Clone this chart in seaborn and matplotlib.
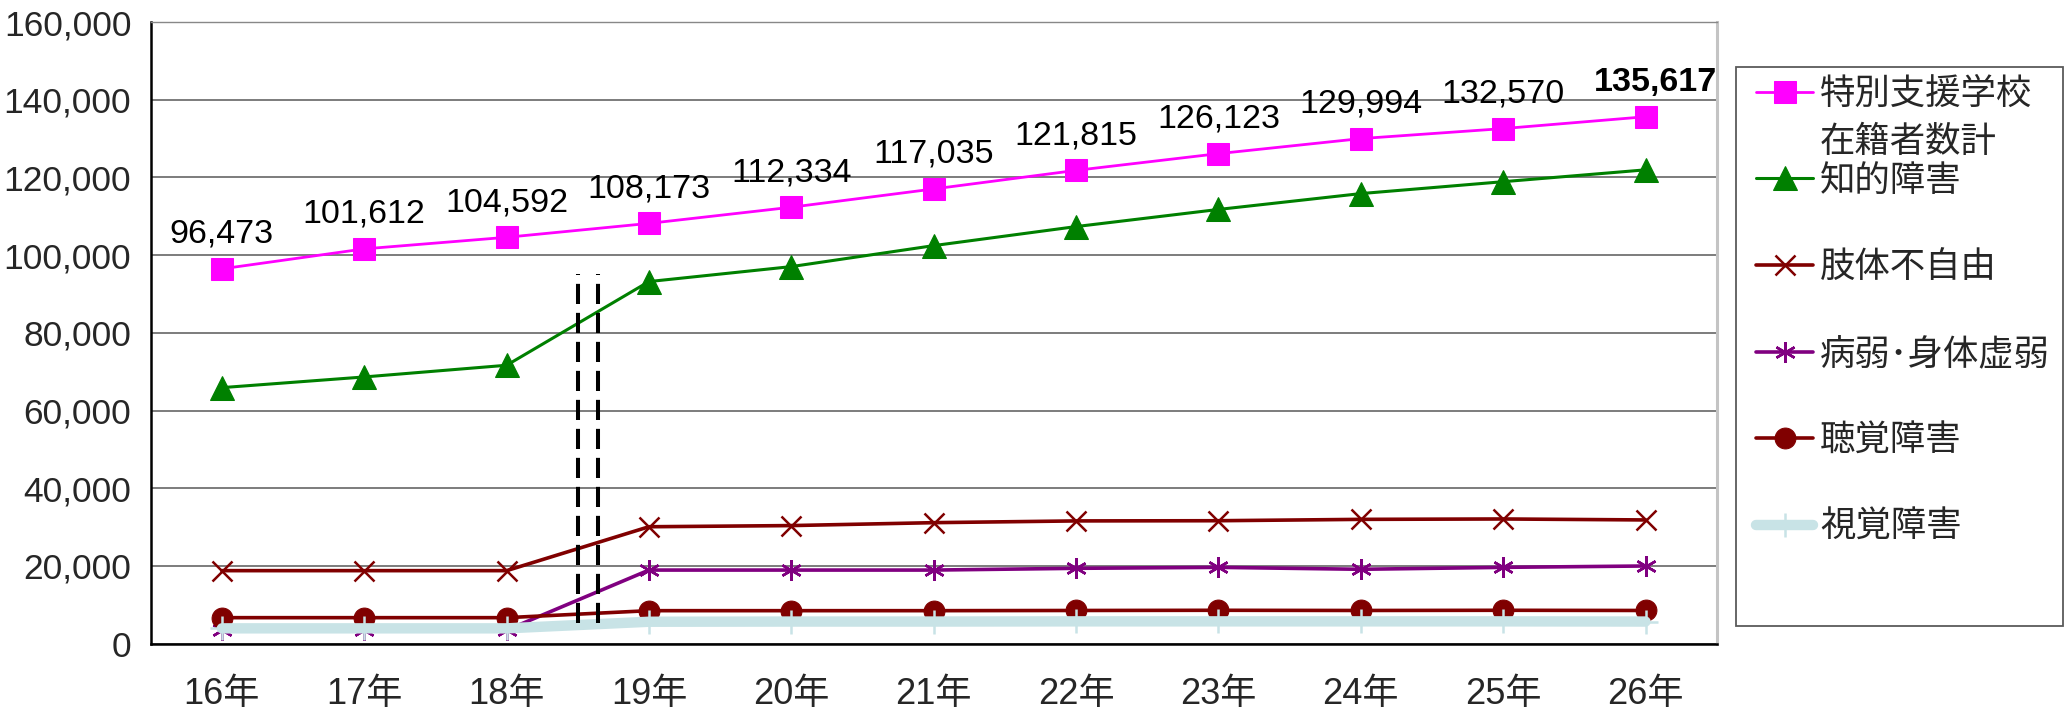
import matplotlib
matplotlib.use("Agg")
import matplotlib.pyplot as plt
from matplotlib import font_manager
from matplotlib.patches import Rectangle
from matplotlib.text import Annotation
from matplotlib.ticker import FixedLocator, FuncFormatter
import seaborn as sns
import pandas as pd

# ---- data -------------------------------------------------------------
years = ["16年", "17年", "18年", "19年", "20年", "21年", "22年", "23年", "24年", "25年", "26年"]
total = [96473, 101612, 104592, 108173, 112334, 117035, 121815, 126123, 129994, 132570, 135617]
intellectual = [65900, 68650, 71660, 93200, 97050, 102450, 107350, 111760, 115840, 118900, 121950]
physical = [18800, 18800, 18800, 30100, 30400, 31150, 31600, 31650, 32000, 32100, 31850]
health = [3500, 3500, 3500, 18950, 18950, 18950, 19400, 19650, 19150, 19650, 20000]
hearing = [6700, 6700, 6700, 8500, 8500, 8500, 8550, 8600, 8550, 8600, 8550]
visual = [3950, 3950, 3950, 5650, 5700, 5700, 5750, 5750, 5750, 5750, 5700]

series_names = ["特別支援学校", "知的障害", "肢体不自由", "病弱･身体虚弱", "聴覚障害", "視覚障害"]
total_label_line2 = "在籍者数計"

# vertical break marks between 18年 and 19年
break_x = [2.5, 2.64]
break_y = [5250, 95200]

y_ticks = [0, 20000, 40000, 60000, 80000, 100000, 120000, 140000, 160000]

# ---- fonts ------------------------------------------------------------
sns.set_style("white")
available = {f.name for f in font_manager.fontManager.ttflist}
narrow = "Liberation Sans Narrow" in available
num_family = ["Liberation Sans Narrow", "Liberation Sans"] if narrow else ["Liberation Sans"]
label_size = 27 if narrow else 24.5
plt.rcParams["font.family"] = ["Noto Sans CJK JP", "DejaVu Sans"]

# ---- figure -----------------------------------------------------------
W, H = 2069, 717
fig = plt.figure(figsize=(W / 100, H / 100), dpi=100)
ax = fig.add_axes([150.7 / W, 1 - 643.7 / H, (1716.7 - 150.7) / W, (643.7 - 22) / H])

x = list(range(len(years)))
df = pd.DataFrame({"x": x, "total": total, "intellectual": intellectual,
                   "physical": physical, "health": health,
                   "hearing": hearing, "visual": visual})

styles = [
    ("total", dict(color="#FF00FF", lw=2.0, marker="s", ms=16, mec="#FF00FF", mfc="#FF00FF")),
    ("intellectual", dict(color="#008000", lw=2.2, marker="^", ms=17, mec="#008000", mfc="#008000")),
    ("physical", dict(color="#800000", lw=2.6, marker="x", ms=15, mew=1.8, mec="#800000")),
    ("health", dict(color="#800080", lw=2.6, marker=(6, 2, 0), ms=15, mew=1.8, mec="#800080")),
    ("hearing", dict(color="#800000", lw=2.6, marker="o", ms=15, mec="#800000", mfc="#800000")),
    ("visual", dict(color="#C8E3E6", lw=7.5, marker="+", ms=17, mew=1.8, mec="#C8E3E6")),
]

for (col, kw), name in zip(styles, series_names):
    sns.lineplot(data=df, x="x", y=col, ax=ax, label=name, zorder=3, **kw)

# break marks
for bx in break_x:
    ax.plot([bx, bx], break_y, color="black", lw=2.9, ls=(0, (5, 2.2)), zorder=4)

# value labels on the total series
for i, v in enumerate(total):
    last = i == len(total) - 1
    ax.annotate(f"{v:,}", xy=(i, v), xytext=(10 if last else 0, 26),
                textcoords="offset pixels", ha="center", va="baseline",
                fontsize=label_size, family=num_family,
                fontweight="bold" if last else "normal", color="black", zorder=5)

# ---- axes ------------------------------------------------------------
ax.set_xlim(-0.5, len(years) - 0.5)
ax.set_ylim(0, 160000)
ax.set_xticks(x)
ax.set_xticklabels(years, fontsize=26, family=num_family + ["Noto Sans CJK JP"])
ax.xaxis.set_minor_locator(FixedLocator([i + 0.5 for i in range(len(years) - 1)]))
ax.tick_params(axis="x", which="major", length=0, pad=24)
ax.tick_params(axis="x", which="minor", direction="in", length=8, width=1.0, color="#555555")
ax.set_yticks(y_ticks)
ax.yaxis.set_major_formatter(FuncFormatter(lambda v, p: f"{int(v):,}"))
for t in ax.get_yticklabels():
    t.set_fontfamily(["Liberation Sans"])
    t.set_fontsize(25.5)
ax.tick_params(axis="y", direction="in", length=8, width=1.0, color="#555555", pad=14)
ax.grid(axis="y", color="#666666", lw=1.2)
ax.set_axisbelow(True)
ax.set_xlabel("")
ax.set_ylabel("")
for s in ("left", "bottom"):
    ax.spines[s].set_color("black")
    ax.spines[s].set_linewidth(1.8)
ax.spines["top"].set_color("#888888")
ax.spines["top"].set_linewidth(1.0)
ax.spines["right"].set_color("#C4C4C4")
ax.spines["right"].set_linewidth(2.2)

# ---- legend ------------------------------------------------------------
handles, labels = ax.get_legend_handles_labels()
ax.get_legend().remove()
fig.add_artist(Rectangle((1735.7 / W, 1 - 626 / H), (2063 - 1735.7) / W, (626 - 67) / H,
                         transform=fig.transFigure, fill=False, ec="#5A5A5A", lw=1.3))
leg_fs = 25.5
leg = fig.legend(handles, labels, loc="upper left", bbox_to_anchor=(1756 / W, 1 - 76 / H),
                 frameon=False, fontsize=leg_fs, handlelength=1.61, handletextpad=0.2,
                 labelspacing=1.43, borderpad=0, borderaxespad=0)
line2 = Annotation(total_label_line2, xy=(0, 0.5), xycoords=leg.get_texts()[0],
                   xytext=(0, -48), textcoords="offset pixels", ha="left", va="center",
                   fontsize=leg_fs, zorder=10)
fig.add_artist(line2)

fig.savefig("out.png", dpi=100)
